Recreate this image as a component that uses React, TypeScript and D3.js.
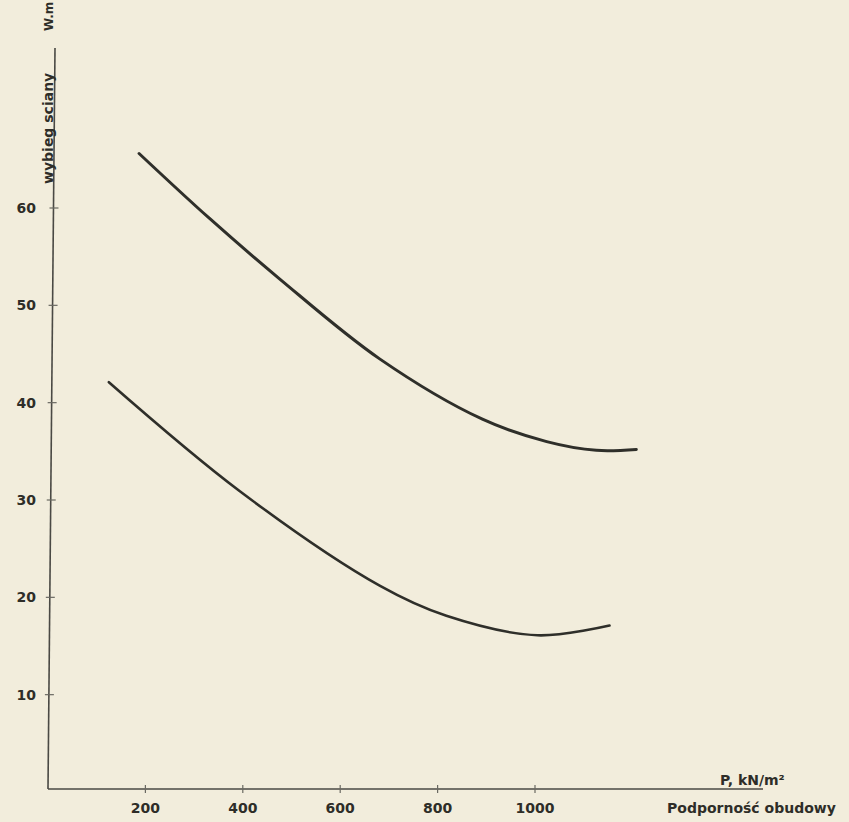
import React from "react";
import * as d3 from "d3";

const xTicks = [200, 400, 600, 800, 1000];
const yTicks = [10, 20, 30, 40, 50, 60];

// upper curve (P kN/m², wybieg W.m)
const upperP = [187, 330, 476, 681, 892, 1024, 1126, 1208];
const upperW = [65.6, 59.0, 52.7, 44.5, 38.3, 36.0, 35.1, 35.2];

// lower curve
const lowerP = [125, 394, 681, 818, 1005, 1153];
const lowerW = [42.1, 30.9, 21.2, 18.1, 16.1, 17.1];

const W = 849;
const H = 822;

export default function App() {
  const x = d3.scaleLinear().domain([0, 1000]).range([48, 535]);
  const y = d3.scaleLinear().domain([0, 60]).range([792, 208]);
  const line = d3
    .line<[number, number]>()
    .x((d) => x(d[0]))
    .y((d) => y(d[1]))
    .curve(d3.curveCatmullRom.alpha(0.5));
  const up: [number, number][] = upperP.map((p, i) => [p, upperW[i]]);
  const lo: [number, number][] = lowerP.map((p, i) => [p, lowerW[i]]);
  const axisY = y(0) - 3;
  const font = "'DejaVu Sans', sans-serif";
  const txt = "#2e2d28";
  return (
    <div style={{ position: "absolute", left: 0, top: 0 }}>
      <svg width={W} height={H} style={{ display: "block" }}>
        <rect width={W} height={H} fill="#f2eddc" />
        {/* y axis */}
        <line x1={55} y1={48} x2={48} y2={axisY} stroke="#4a4944" strokeWidth={1.6} />
        {/* x axis */}
        <line x1={48} y1={axisY} x2={763} y2={axisY} stroke="#4a4944" strokeWidth={1.6} />
        {xTicks.map((t) => (
          <g key={"xt" + t}>
            <line x1={x(t)} x2={x(t)} y1={axisY - 4} y2={axisY + 4} stroke="#6a6962" strokeWidth={1.2} />
            <text
              x={x(t)}
              y={axisY + 24}
              textAnchor="middle"
              fontFamily={font}
              fontWeight="bold"
              fontSize={14}
              fill={txt}
            >
              {t}
            </text>
          </g>
        ))}
        {yTicks.map((t) => {
          const yy = y(t);
          const ax = 48 + ((axisY - yy) / (axisY - 48)) * 7;
          return (
            <g key={"yt" + t}>
              <line x1={ax - 4} x2={ax + 5} y1={yy} y2={yy} stroke="#6a6962" strokeWidth={1.2} />
              <text
                x={36}
                y={yy + 5}
                textAnchor="end"
                fontFamily={font}
                fontWeight="bold"
                fontSize={14}
                fill={txt}
              >
                {t}
              </text>
            </g>
          );
        })}
        {/* curves */}
        <path d={line(up) || ""} fill="none" stroke="#2f2f2a" strokeWidth={3} strokeLinecap="round" />
        <path d={line(lo) || ""} fill="none" stroke="#2f2f2a" strokeWidth={2.6} strokeLinecap="round" />
        {/* axis titles */}
        <text x={720} y={785} fontFamily={font} fontWeight="bold" fontSize={14} fill={txt}>
          P, kN/m²
        </text>
        <text x={667} y={813} fontFamily={font} fontWeight="bold" fontSize={14} fill={txt}>
          Podporność obudowy
        </text>
        <text
          transform="translate(53,184) rotate(-90)"
          fontFamily={font}
          fontWeight="bold"
          fontSize={14}
          fill={txt}
        >
          wybieg sciany
        </text>
        <text
          transform="translate(53,31) rotate(-90)"
          fontFamily={font}
          fontWeight="bold"
          fontSize={12}
          fill={txt}
        >
          W.m
        </text>
      </svg>
    </div>
  );
}
